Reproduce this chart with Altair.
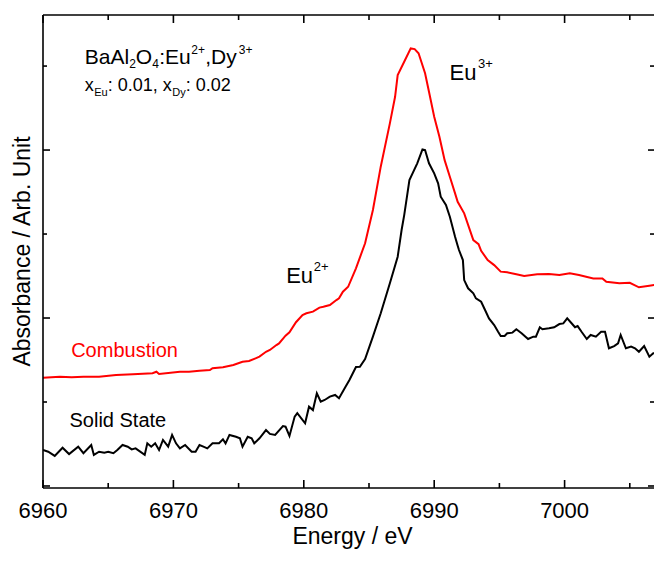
import altair as alt
import pandas as pd

# ---------------- data ----------------
# Solid State (black)
ss_energy = [6960.0, 6960.4, 6960.9, 6961.5, 6962.0, 6962.7, 6963.1, 6963.7, 6963.9, 6964.3,
             6964.7, 6965.0, 6965.4, 6965.7, 6966.1, 6966.5, 6966.8, 6967.1, 6967.8, 6968.0,
             6968.3, 6968.6, 6968.9, 6969.2, 6969.6, 6969.9, 6970.2, 6970.5, 6970.9, 6971.4,
             6971.7, 6972.0, 6972.3, 6972.6, 6973.0, 6973.5, 6973.8, 6974.0, 6974.3, 6974.8,
             6975.1, 6975.3, 6975.7, 6976.0, 6976.2, 6976.6, 6977.1, 6977.4, 6977.8, 6978.4,
             6978.6, 6978.9, 6979.3, 6979.5, 6980.1, 6980.4, 6980.7, 6981.0, 6981.3, 6981.6,
             6982.0, 6982.4, 6982.7, 6983.2, 6983.5, 6984.0, 6984.3, 6984.7, 6985.3, 6985.9,
             6986.6, 6987.2, 6987.5, 6987.7, 6988.1, 6988.7, 6989.1, 6989.3, 6989.6, 6990.0,
             6990.3, 6990.5, 6990.9, 6991.2, 6991.6, 6991.8, 6991.9, 6992.2, 6992.3, 6992.6,
             6993.0, 6993.2, 6993.6, 6993.9, 6994.2, 6994.6, 6994.9, 6995.1, 6995.4, 6995.6,
             6996.0, 6996.3, 6996.7, 6997.2, 6997.6, 6997.8, 6998.1, 6998.3, 6998.8, 6999.2,
             6999.6, 6999.9, 7000.2, 7000.5, 7000.8, 7001.0, 7001.3, 7001.7, 7002.0, 7002.4,
             7002.8, 7003.1, 7003.4, 7003.8, 7004.1, 7004.3, 7004.7, 7005.1, 7005.4, 7005.7,
             7006.1, 7006.5, 7006.8, 7007.4]
ss_abs = [0.214, 0.204, 0.179, 0.228, 0.190, 0.234, 0.195, 0.244, 0.185, 0.204,
          0.198, 0.204, 0.195, 0.214, 0.244, 0.234, 0.218, 0.224, 0.185, 0.254,
          0.234, 0.254, 0.214, 0.274, 0.234, 0.304, 0.254, 0.224, 0.244, 0.204,
          0.204, 0.244, 0.234, 0.224, 0.254, 0.254, 0.278, 0.254, 0.304, 0.293,
          0.284, 0.234, 0.293, 0.284, 0.254, 0.284, 0.333, 0.310, 0.304, 0.357,
          0.353, 0.298, 0.413, 0.433, 0.373, 0.472, 0.452, 0.552, 0.502, 0.512,
          0.532, 0.542, 0.522, 0.591, 0.631, 0.708, 0.710, 0.755, 0.889, 1.028,
          1.207, 1.365, 1.524, 1.613, 1.821, 1.921, 2.004, 2.000, 1.921, 1.861,
          1.802, 1.722, 1.673, 1.603, 1.484, 1.430, 1.405, 1.345, 1.226, 1.177,
          1.147, 1.117, 1.097, 1.048, 0.998, 0.958, 0.918, 0.893, 0.893, 0.909,
          0.913, 0.933, 0.909, 0.875, 0.889, 0.889, 0.945, 0.933, 0.939, 0.945,
          0.964, 0.968, 0.998, 0.972, 0.945, 0.952, 0.918, 0.875, 0.899, 0.889,
          0.918, 0.918, 0.820, 0.833, 0.849, 0.899, 0.820, 0.830, 0.820, 0.799,
          0.833, 0.770, 0.790, 0.796]

# Combustion (red)
cb_energy = [6960.0, 6961.3, 6962.2, 6963.1, 6964.3, 6965.6, 6966.9, 6968.4, 6968.7, 6968.9,
             6970.5, 6971.2, 6972.0, 6972.8, 6973.0, 6973.8, 6974.6, 6975.3, 6975.8, 6976.3,
             6976.6, 6977.1, 6977.4, 6977.9, 6978.1, 6978.6, 6978.9, 6979.4, 6979.9, 6980.2,
             6980.7, 6981.2, 6981.5, 6982.0, 6982.5, 6982.7, 6983.0, 6983.4, 6984.0, 6984.7,
             6985.3, 6985.9, 6986.6, 6987.0, 6987.2, 6987.7, 6988.2, 6988.5, 6988.8, 6989.3,
             6989.6, 6990.0, 6990.4, 6990.8, 6991.2, 6991.6, 6991.8, 6992.3, 6993.0, 6993.4,
             6993.6, 6994.1, 6994.6, 6995.1, 6995.6, 6996.3, 6996.9, 6997.9, 6998.8, 6999.6,
             7000.4, 7001.1, 7002.2, 7002.9, 7003.2, 7004.2, 7005.0, 7005.7, 7006.5, 7007.4]
cb_abs = [0.645, 0.651, 0.648, 0.651, 0.651, 0.661, 0.665, 0.671, 0.680, 0.667,
          0.680, 0.680, 0.686, 0.690, 0.701, 0.707, 0.720, 0.740, 0.744, 0.760,
          0.770, 0.799, 0.810, 0.839, 0.849, 0.895, 0.915, 0.975, 1.018, 1.028,
          1.038, 1.062, 1.067, 1.077, 1.107, 1.117, 1.157, 1.186, 1.296, 1.445,
          1.643, 1.901, 2.159, 2.317, 2.446, 2.526, 2.605, 2.601, 2.576, 2.457,
          2.347, 2.198, 2.079, 1.940, 1.841, 1.742, 1.692, 1.623, 1.464, 1.440,
          1.400, 1.345, 1.315, 1.276, 1.272, 1.260, 1.250, 1.260, 1.262, 1.256,
          1.266, 1.256, 1.236, 1.236, 1.216, 1.207, 1.210, 1.183, 1.192, 1.202]

series_names = ["Combustion", "Solid State"]
series_colors = ["#ff0000", "#000000"]

x_major = [6960, 6970, 6980, 6990, 7000]
x_major_labels = ["6960", "6970", "6980", "6990", "7000"]
x_minor = [6965, 6975, 6985, 6995, 7005]
y_major = [0, 1, 2]
y_minor = [0.5, 1.5, 2.5]

x_title = "Energy / eV"
y_title = "Absorbance / Arb. Unit"

# ---------------- layout ----------------
W, H = 611, 473
XDOM = [6960, 6960 + W / 13.04]
YDOM = [-0.012, 2.804]
FONT = "Liberation Sans"
LW = 1.6

xs = alt.Scale(domain=XDOM, nice=False, zero=False)
ys = alt.Scale(domain=YDOM, nice=False, zero=False)

df = pd.concat([
    pd.DataFrame({"energy": cb_energy, "absorb": cb_abs, "series": "Combustion"}),
    pd.DataFrame({"energy": ss_energy, "absorb": ss_abs, "series": "Solid State"}),
])

lines = alt.Chart(df).mark_line(strokeWidth=2, clip=True).encode(
    x=alt.X("energy:Q", scale=xs, axis=None),
    y=alt.Y("absorb:Q", scale=ys, axis=None),
    color=alt.Color("series:N", scale=alt.Scale(domain=series_names, range=series_colors),
                    legend=None),
    detail="series:N",
)

one = pd.DataFrame({"a": [0]})


def frame_rule(**enc):
    return alt.Chart(one).mark_rule(color="black", strokeWidth=LW).encode(**enc)


frame = [
    frame_rule(x=alt.value(0), x2=alt.value(W), y=alt.value(0)),      # top
    frame_rule(x=alt.value(0), x2=alt.value(W), y=alt.value(H)),      # bottom
    frame_rule(x=alt.value(0), y=alt.value(0), y2=alt.value(H)),      # left
]


def xticks(vals, y0, y1):
    return alt.Chart(pd.DataFrame({"v": vals})).mark_rule(color="black", strokeWidth=LW).encode(
        x=alt.X("v:Q", scale=xs, axis=None), y=alt.value(y0), y2=alt.value(y1))


def yticks(vals, x0, x1):
    return alt.Chart(pd.DataFrame({"v": vals})).mark_rule(color="black", strokeWidth=LW).encode(
        y=alt.Y("v:Q", scale=ys, axis=None), x=alt.value(x0), x2=alt.value(x1))


ticks = [
    xticks(x_major, H, H - 8), xticks(x_minor, H, H - 5),
    xticks(x_major, 0, 8), xticks(x_minor, 0, 5),
    yticks(y_major, 0, 7), yticks(y_minor, 0, 4),
    yticks(y_major, W, W - 6), yticks(y_minor, W, W - 4),
]

tick_labels = alt.Chart(pd.DataFrame({"v": x_major, "lab": x_major_labels})).mark_text(
    font=FONT, fontSize=22, color="black", align="center", baseline="alphabetic").encode(
    x=alt.X("v:Q", scale=xs, axis=None), y=alt.value(H + 30), text="lab:N")

xtitle = alt.Chart(pd.DataFrame({"t": [x_title]})).mark_text(
    font=FONT, fontSize=23, color="black", align="center", baseline="alphabetic").encode(
    x=alt.value(W / 2 + 4), y=alt.value(H + 56), text="t:N")

ytitle = alt.Chart(pd.DataFrame({"t": [y_title]})).mark_text(
    font=FONT, fontSize=23, color="black", align="center", baseline="alphabetic",
    angle=270).encode(
    x=alt.value(-13), y=alt.value(H / 2), text="t:N")


def label(text, x, y, size, color="black", dx=0, dy=0):
    return alt.Chart(pd.DataFrame({"x": [x], "y": [y], "t": [text]})).mark_text(
        font=FONT, fontSize=size, color=color, align="left", baseline="alphabetic",
        dx=dx, dy=dy).encode(
        x=alt.X("x:Q", scale=xs, axis=None),
        y=alt.Y("y:Q", scale=ys, axis=None),
        text="t:N")


# annotation anchors (data coordinates)
t1 = (6963.2, 2.512)
t2 = (6963.2, 2.351)
texts = [
    # BaAl2O4:Eu2+,Dy3+
    label("BaAl", *t1, 21),
    label("2", *t1, 12, dx=44.4, dy=4),
    label("O", *t1, 21, dx=51.0),
    label("4", *t1, 12, dx=67.4, dy=4),
    label(":Eu", *t1, 21, dx=74.5),
    label("2+", *t1, 12, dx=106.5, dy=-10),
    label(",Dy", *t1, 21, dx=120.5),
    label("3+", *t1, 12, dx=154.0, dy=-10),
    # x_Eu: 0.01, x_Dy: 0.02
    label("x", *t2, 18),
    label("Eu", *t2, 11, dx=9.5, dy=5),
    label(": 0.01,", *t2, 18, dx=23),
    label("x", *t2, 18, dx=78),
    label("Dy", *t2, 11, dx=87.5, dy=5),
    label(": 0.02", *t2, 18, dx=101),
    # series labels
    label("Combustion", 6962.16, 0.766, 20, color="#ff0000"),
    label("Solid State", 6962.03, 0.353, 20),
    # peak labels
    label("Eu", 6978.65, 1.207, 22),
    label("2+", 6978.65, 1.207, 13, dx=27.5, dy=-12),
    label("Eu", 6991.17, 2.417, 22),
    label("3+", 6991.17, 2.417, 13, dx=28.5, dy=-12),
]

chart = alt.layer(lines, *frame, *ticks, tick_labels, xtitle, ytitle, *texts).properties(
    width=W, height=H,
    autosize=alt.AutoSizeParams(type="none"),
    padding={"left": 35, "top": 7, "right": 0, "bottom": 61},
).configure_view(stroke=None)

chart.save("out.html", embed_options={"renderer": "svg", "actions": False})
